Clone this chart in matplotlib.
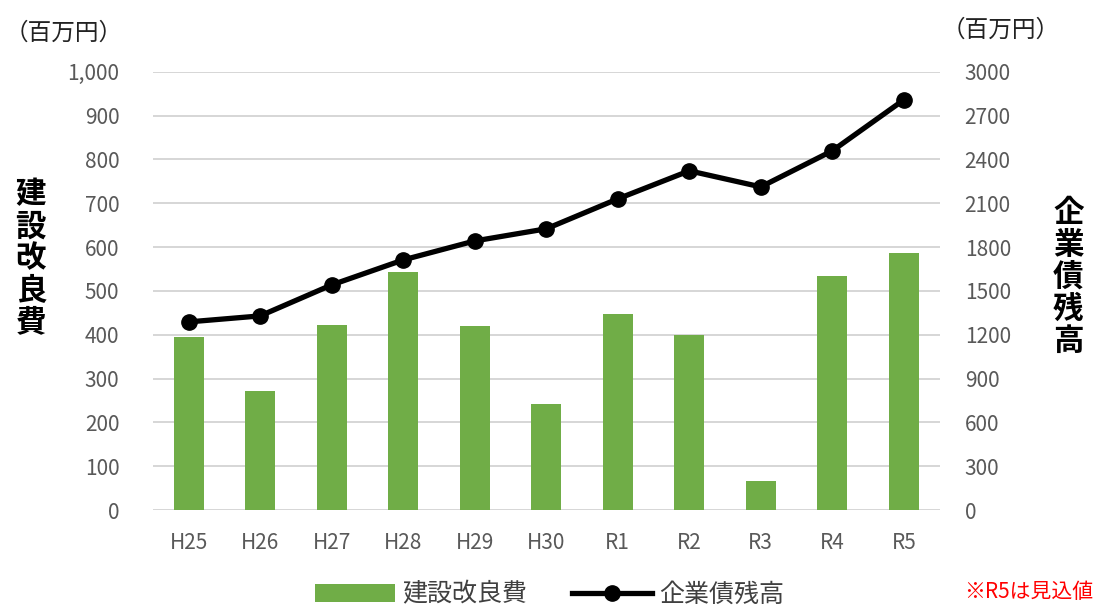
import matplotlib.pyplot as plt
import numpy as np

plt.rcParams['font.family'] = ['Noto Sans CJK JP', 'DejaVu Sans']

# data
years = ["H25", "H26", "H27", "H28", "H29", "H30", "R1", "R2", "R3", "R4", "R5"]
construction = [395, 272, 422, 543, 420, 242, 447, 400, 66, 534, 587]   # 建設改良費
bond_balance = [1288, 1329, 1541, 1712, 1842, 1925, 2130, 2322, 2212, 2459, 2808]  # 企業債残高

green = '#70ad47'
gray = '#595959'

fig = plt.figure(figsize=(10.99, 6.08), dpi=100)
ax = fig.add_axes([0.139, 0.161, 0.716, 0.721])
ax2 = ax.twinx()

x = np.arange(len(years))
bars = ax.bar(x, construction, width=0.42, color=green, zorder=2, label="建設改良費")
line, = ax2.plot(x, bond_balance, color='black', lw=3.8, marker='o', markersize=11,
                 zorder=3, label="企業債残高")

ax.set_xlim(-0.5, len(years) - 0.5)
ax.set_ylim(0, 1000)
ax2.set_ylim(0, 3000)
ax.set_yticks(np.arange(0, 1001, 100))
ax.set_yticklabels([f"{v:,}" for v in range(0, 1001, 100)])
ax2.set_yticks(np.arange(0, 3001, 300))
ax.set_xticks(x)
ax.set_xticklabels(years)

ax.grid(axis='y', color='#d0d0d0', lw=1.2, zorder=0)
ax.set_axisbelow(True)
for a in (ax, ax2):
    for s in a.spines.values():
        s.set_visible(False)
    a.tick_params(length=0, labelsize=15, labelcolor=gray)
ax.tick_params(axis='y', pad=24)
ax2.tick_params(axis='y', pad=18)
ax.tick_params(axis='x', pad=16)

ax.set_zorder(ax2.get_zorder() - 1)
ax2.patch.set_visible(False)
ax.patch.set_visible(True)

# unit labels
fig.text(0.004, 0.945, "（百万円）", fontsize=17, color='#222222', va='center')
fig.text(0.857, 0.950, "（百万円）", fontsize=17, color='#222222', va='center')

# vertical axis titles
fig.text(0.028, 0.575, "\n".join("建設改良費"), fontsize=22, fontweight='bold',
         ha='center', va='center', linespacing=1.0)
fig.text(0.972, 0.545, "\n".join("企業債残高"), fontsize=22, fontweight='bold',
         ha='center', va='center', linespacing=1.0)

# legend
fig.legend(handles=[bars, line], loc='center', bbox_to_anchor=(0.50, 0.022),
           ncol=2, frameon=False, fontsize=18, labelcolor='#404040',
           handlelength=3.2, handletextpad=0.3, columnspacing=1.8)

fig.text(0.995, 0.027, "※R5は見込値", fontsize=15, color='red', ha='right', va='center')

fig.savefig("out.png", dpi=100)
